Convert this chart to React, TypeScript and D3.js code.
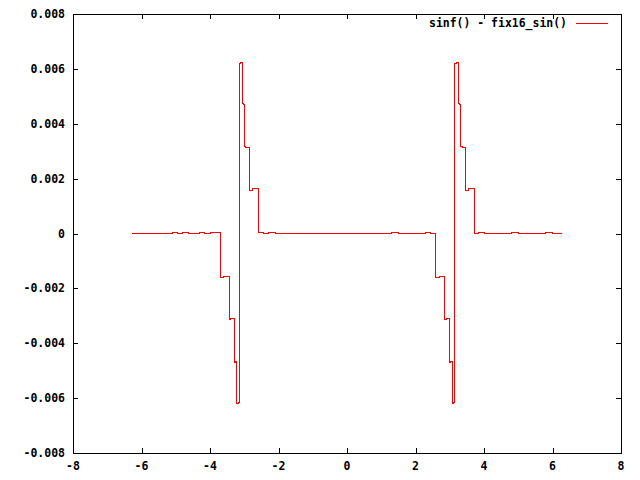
import React from "react";
import * as d3 from "d3";

const xTicks = [-8, -6, -4, -2, 0, 2, 4, 6, 8];
const xTickLabels = ["-8", "-6", "-4", "-2", "0", "2", "4", "6", "8"];
const yTicks = [-0.008, -0.006, -0.004, -0.002, 0, 0.002, 0.004, 0.006, 0.008];
const yTickLabels = ["-0.008", "-0.006", "-0.004", "-0.002", "0", "0.002", "0.004", "0.006", "0.008"];
const seriesName = "sinf() - fix16_sin()";

// step vertices (x, sinf(x) - fix16_sin(x))
const errX = [
  -6.283, -6.1, -5.95, -5.8, -5.62, -5.45, -5.3, -5.1, -4.95, -4.8, -4.62, -4.45, -4.3, -4.15, -4.0, -3.85,
  -3.696, -3.6, -3.445, -3.4, -3.288, -3.26, -3.229, -3.17, -3.1416, -3.1, -3.054, -3.02, -2.987, -2.95, -2.842, -2.75,
  -2.571, -2.45, -2.3, -2.1, -1.9, -1.7, -1.5, -1.3, -1.1, -0.9, -0.7, -0.5, -0.3, -0.1, 0.1, 0.3, 0.5, 0.7, 0.9,
  1.1, 1.3, 1.5, 1.7, 1.9, 2.1, 2.3, 2.45,
  2.588, 2.7, 2.842, 2.9, 2.996, 3.03, 3.084, 3.12, 3.142, 3.2, 3.25, 3.28, 3.317, 3.37, 3.454, 3.55,
  3.716, 3.85, 4.0, 4.2, 4.4, 4.6, 4.8, 5.0, 5.2, 5.4, 5.6, 5.8, 6.0, 6.15, 6.283,
];
const errY = [
  0.0, -0.00001, 0.0, -0.00001, 0.0, 0.00001, 0.0, 0.00002, 0.00001, 0.00002, 0.0, 0.00001, 0.00002, 0.00001, 0.00002, 0.00002,
  -0.0016, -0.00155, -0.00315, -0.0031, -0.0047, -0.00465, -0.0062, -0.00615, 0.00619, 0.00624, 0.00475, 0.0047, 0.00318, 0.00313, 0.00156, 0.00163,
  0.00002, 0.00001, 0.00002, 0.0, 0.00001, 0.0, 0.00001, 0.0, 0.00001, -0.00001, 0.0, 0.00001, 0.0, -0.00001, 0.00001, 0.0, 0.00001, 0.0, -0.00001,
  0.00001, 0.00002, 0.0, 0.00001, 0.0, 0.00001, 0.00002, 0.00001,
  -0.0016, -0.00155, -0.00315, -0.0031, -0.0047, -0.00465, -0.0062, -0.00615, 0.00619, 0.00624, 0.00475, 0.0047, 0.00318, 0.00313, 0.00156, 0.00163,
  0.00001, 0.00002, 0.0, 0.00001, 0.0, 0.00001, 0.00002, 0.0, 0.00001, -0.00001, 0.00001, 0.00002, 0.0, 0.00001, 0.00001,
];

const W = 640;
const H = 480;
const L = 73;
const R = 621;
const T = 14;
const B = 453;
const FONT = "'DejaVu Sans Mono', monospace";

export default function App() {
  const x = d3.scaleLinear().domain([-8, 8]).range([L, R]);
  const y = d3.scaleLinear().domain([-0.008, 0.008]).range([B, T]);
  const pts: [number, number][] = errX.map((v, i) => [v, errY[i]]);
  const line = d3
    .line<[number, number]>()
    .x((d) => x(d[0]))
    .y((d) => y(d[1]))
    .curve(d3.curveStepAfter);
  const tl = 5;
  return (
    <svg
      width={W}
      height={H}
      style={{ position: "absolute", left: 0, top: 0, background: "#fff" }}
    >
      <rect x={0} y={0} width={W} height={H} fill="#fff" />
      <g shapeRendering="crispEdges" stroke="#000" strokeWidth={1}>
        <rect x={L + 0.5} y={T + 0.5} width={R - L} height={B - T} fill="none" />
        {xTicks.map((t) => (
          <g key={"x" + t}>
            <line x1={Math.round(x(t)) + 0.5} x2={Math.round(x(t)) + 0.5} y1={B} y2={B - tl} />
            <line x1={Math.round(x(t)) + 0.5} x2={Math.round(x(t)) + 0.5} y1={T} y2={T + tl} />
          </g>
        ))}
        {yTicks.map((t) => (
          <g key={"y" + t}>
            <line x1={L} x2={L + tl} y1={Math.round(y(t)) + 0.5} y2={Math.round(y(t)) + 0.5} />
            <line x1={R} x2={R - tl} y1={Math.round(y(t)) + 0.5} y2={Math.round(y(t)) + 0.5} />
          </g>
        ))}
      </g>
      <g fontFamily={FONT} fontWeight="bold" fontSize={11.5} fill="#000">
        {xTicks.map((t, i) => (
          <text key={"xl" + t} x={x(t)} y={470} textAnchor="middle">
            {xTickLabels[i]}
          </text>
        ))}
        {yTicks.map((t, i) => (
          <text key={"yl" + t} x={65} y={y(t) + 4} textAnchor="end">
            {yTickLabels[i]}
          </text>
        ))}
        <text x={429} y={27} textLength={138} lengthAdjust="spacingAndGlyphs">
          {seriesName}
        </text>
      </g>
      <line x1={576} x2={608} y1={23.5} y2={23.5} stroke="#ff0000" strokeWidth={1} shapeRendering="crispEdges" />
      <path d={line(pts) || ""} fill="none" stroke="#ff0000" strokeWidth={1} shapeRendering="crispEdges" />
    </svg>
  );
}
